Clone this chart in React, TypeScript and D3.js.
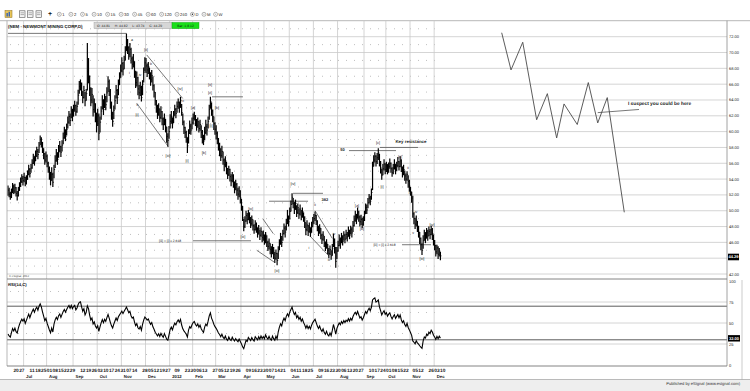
import React from "react";
import * as d3 from "d3";

const FONT = "'Liberation Sans', Arial, Helvetica, sans-serif";

// ---------------- data (NEM daily, 13 Jun 2011 .. 10 Dec 2012) ----------------
const warmupCloses = [55.2, 55.8, 55.1, 54.6, 55.0, 54.3, 54.8, 55.4, 55.9, 56.2, 55.7, 55.0, 54.5, 54.9, 54.2, 53.6, 53.9, 53.2, 52.8, 53.3];

const closes2011 = [
  52.6, 52.1, 51.8, 52.4, 53.0,
  52.5, 52.9, 52.2, 51.9, 52.6, 53.2, 53.7, 54.1, 53.8,
  54.2, 53.5, 54.0, 54.6, 55.2, 54.7, 55.4, 56.0, 56.6, 56.2, 57.0, 57.5, 57.1, 58.2, 59.0, 58.6, 57.9, 57.2, 56.4, 56.9,
  56.0, 55.3, 54.5, 53.8, 54.6, 53.6, 55.2, 56.3, 57.0, 56.5, 57.6, 58.1, 57.4, 58.3, 59.2, 59.9, 59.4, 60.3, 61.2, 61.9, 61.4, 62.6, 62.0,
  62.8, 63.3, 62.5, 63.2, 64.6, 65.7, 66.0, 65.1, 64.3, 65.2, 63.9, 64.8, 67.6, 67.0, 65.4, 64.0, 64.7, 62.8, 63.5, 62.1, 61.3,
  62.0, 59.8, 61.2, 62.6, 63.9, 62.8, 64.1, 63.4, 64.9, 66.3, 65.1, 63.6, 62.2, 61.3, 62.7, 63.9, 65.2, 64.3, 65.9, 66.8, 67.7,
  68.6, 67.9, 69.0, 70.1, 71.3, 70.6, 69.8, 70.4, 69.2, 68.5, 68.9, 67.4, 66.2, 66.8, 65.4, 64.9, 65.6, 64.3, 66.0, 67.5, 68.7,
  68.3, 67.8, 68.2, 67.3, 66.6, 67.1, 65.8, 65.0, 63.9, 63.2, 62.4, 62.9, 61.8, 62.5, 61.6, 60.9, 61.7, 60.6, 59.4, 58.9, 60.0,
];
const highs2011 = [
  53.2, 52.9, 52.4, 52.8, 53.5,
  53.3, 53.4, 53.0, 52.5, 53.0, 53.6, 54.2, 54.6, 54.4,
  54.8, 54.3, 54.5, 55.1, 55.8, 55.4, 55.9, 56.5, 57.2, 56.9, 57.6, 58.1, 57.8, 58.7, 59.5, 59.3, 58.7, 57.9, 57.3, 57.5,
  57.1, 56.2, 55.6, 54.9, 55.5, 54.8, 55.8, 57.0, 57.8, 57.4, 58.3, 58.8, 58.2, 58.9, 59.9, 60.6, 60.3, 61.0, 61.9, 62.6, 62.3, 63.2, 62.9,
  63.4, 63.9, 63.4, 63.8, 65.3, 66.4, 66.6, 66.2, 65.1, 65.8, 65.0, 65.4, 71.2, 69.3, 67.1, 65.6, 65.5, 64.6, 64.2, 63.6, 62.4,
  62.9, 62.3, 61.9, 63.2, 64.6, 64.1, 64.8, 64.5, 65.6, 67.0, 66.6, 65.4, 63.8, 62.5, 63.3, 64.6, 65.9, 65.4, 66.6, 67.5, 68.5,
  69.4, 68.8, 69.6, 70.8, 72.4, 71.7, 70.8, 71.2, 70.6, 69.5, 69.8, 68.9, 67.7, 67.6, 66.9, 65.9, 66.3, 65.8, 66.5, 68.1, 69.4,
  69.3, 68.6, 68.8, 68.1, 67.5, 67.8, 67.0, 66.0, 65.0, 64.0, 63.4, 63.6, 62.9, 63.2, 62.6, 61.8, 62.3, 61.6, 60.6, 59.8, 60.7,
];
const lows2011 = [
  51.9, 51.7, 51.4, 51.6, 52.2,
  52.1, 52.2, 51.8, 51.3, 51.8, 52.5, 53.0, 53.5, 53.2,
  53.6, 53.1, 53.3, 53.9, 54.5, 54.2, 54.8, 55.3, 55.9, 55.7, 56.3, 56.8, 56.5, 57.3, 58.3, 58.0, 57.3, 56.5, 55.8, 56.1,
  55.5, 54.8, 53.9, 53.2, 53.8, 53.0, 54.1, 55.4, 56.2, 55.8, 56.7, 57.4, 56.8, 57.5, 58.4, 59.1, 58.8, 59.5, 60.4, 61.0, 60.7, 61.7, 61.3,
  61.9, 62.5, 62.0, 62.4, 63.4, 64.8, 65.2, 64.5, 63.6, 64.2, 63.2, 63.9, 65.2, 66.1, 64.5, 63.2, 63.6, 61.9, 62.4, 61.2, 59.9,
  60.7, 58.9, 59.9, 61.5, 62.8, 62.1, 63.0, 62.7, 63.7, 65.0, 64.5, 62.9, 61.5, 60.6, 61.6, 62.8, 64.2, 63.5, 64.6, 65.9, 66.8,
  67.5, 67.1, 67.9, 69.0, 70.2, 69.8, 69.1, 69.4, 68.6, 67.9, 68.1, 66.8, 65.5, 65.7, 64.6, 64.1, 64.5, 63.8, 64.6, 66.2, 67.6,
  67.4, 66.9, 67.3, 66.6, 65.8, 66.2, 65.2, 64.3, 63.3, 62.4, 61.6, 62.0, 61.2, 61.6, 60.8, 60.2, 60.8, 59.9, 58.6, 58.1, 59.1,
];

const closes2012 = [
  61.3, 61.9, 61.0, 62.0, 62.8, 62.3, 63.2, 63.7, 63.1, 63.9, 62.4, 61.2, 60.5, 59.9, 59.3, 58.2, 59.8, 60.7, 60.2, 61.1,
  61.7, 62.0, 61.2, 60.8, 61.3, 60.4, 60.9, 59.9, 59.3, 58.8, 59.9, 60.6, 60.2, 61.3, 62.8, 63.8, 62.6, 61.9, 61.0, 60.3,
  59.8, 59.1, 58.3, 57.8, 57.0, 57.5, 56.4, 55.8, 56.3, 55.1, 54.6, 55.2, 54.3, 53.8, 54.4, 53.5, 52.9, 53.3, 52.6, 52.1, 52.5, 51.6,
  50.6, 49.1, 48.0, 48.7, 49.4, 48.9, 49.6, 49.0, 48.4, 48.9, 48.1, 47.6, 48.3, 47.8, 47.2, 47.7, 46.9, 47.4, 46.6, 46.9,
  46.2, 46.8, 46.0, 45.5, 45.9, 45.1, 44.7, 45.3, 44.5, 44.0, 44.6, 43.7, 44.9, 45.8, 46.5, 46.0, 47.1, 47.8, 47.3, 48.4, 49.1, 48.6,
  49.9, 50.8, 51.7, 50.9, 50.3, 50.9, 49.8, 50.4, 49.6, 50.2, 49.3, 49.9, 49.1, 48.5, 47.6, 48.2, 47.4, 47.9, 47.2, 48.0, 48.6,
  49.0, 49.4, 48.7, 47.9, 47.3, 47.8, 46.9, 46.4, 46.9, 45.9, 45.4, 45.9, 45.0, 44.6, 45.1, 44.3, 45.2, 46.4, 45.3, 43.6, 44.9,
  45.6, 46.3, 45.8, 46.6, 46.1, 46.9, 46.4, 47.0, 46.7, 47.4, 46.9, 47.6, 47.2, 48.1, 48.8, 49.3, 48.9, 49.8, 49.2, 48.6, 48.9, 48.3, 48.8,
  49.6, 50.4, 50.1, 51.0, 51.6, 51.2, 52.3, 55.6, 56.4, 56.9, 56.2, 56.7, 57.3, 56.1, 55.4, 54.5, 55.3, 55.9, 55.2,
  55.7, 55.0, 55.6, 56.0, 55.3, 54.8, 55.4, 55.9, 55.2, 55.7, 56.2, 55.6, 56.3, 55.4, 54.8, 55.2, 54.4, 54.0, 54.6, 53.7, 53.1,
  52.4, 51.6, 49.6, 49.0, 48.3, 48.8, 47.9, 47.3, 46.5, 45.7, 45.0, 46.2, 46.9, 46.5, 47.2, 46.8, 47.4, 47.0, 47.6, 47.1, 46.2,
  45.6, 44.8, 45.3, 44.5, 44.9, 44.29,
];
const highs2012 = [
  62.2, 62.6, 61.8, 62.6, 63.4, 63.0, 63.8, 64.2, 63.8, 64.4, 63.5, 62.3, 61.4, 60.6, 60.1, 59.3, 60.3, 61.4, 61.0, 61.8,
  62.3, 62.5, 62.1, 61.6, 61.8, 61.3, 61.5, 60.8, 60.2, 59.6, 60.6, 61.5, 61.0, 61.9, 63.4, 64.4, 63.7, 62.8, 61.9, 61.2,
  60.8, 60.0, 59.2, 58.6, 57.9, 58.2, 57.5, 56.6, 56.9, 56.2, 55.4, 55.7, 55.3, 54.6, 54.9, 54.6, 53.7, 53.9, 53.5, 52.9, 53.1, 52.6,
  51.5, 50.6, 49.0, 49.3, 50.0, 49.7, 50.1, 49.8, 49.2, 49.4, 48.9, 48.3, 48.8, 48.5, 47.9, 48.2, 47.6, 47.9, 47.4, 47.5,
  47.0, 47.3, 46.9, 46.2, 46.5, 45.9, 45.5, 45.8, 45.4, 44.8, 45.1, 44.7, 45.5, 46.4, 47.2, 46.8, 47.6, 48.4, 48.1, 49.0, 50.1, 49.4,
  50.4, 51.3, 52.2, 51.6, 51.1, 51.4, 50.7, 50.9, 50.3, 50.8, 50.1, 50.4, 49.8, 49.3, 48.5, 48.8, 48.2, 48.5, 47.9, 48.6, 49.2,
  49.6, 49.9, 49.5, 48.8, 48.1, 48.3, 47.8, 47.1, 47.4, 46.8, 46.1, 46.4, 45.8, 45.3, 45.6, 45.0, 45.8, 47.1, 46.5, 45.4, 45.4,
  46.2, 47.0, 46.6, 47.2, 46.9, 47.4, 47.1, 47.6, 47.3, 48.0, 47.6, 48.1, 47.9, 48.7, 49.4, 50.0, 49.6, 50.4, 50.0, 49.4, 49.5, 49.1, 49.3,
  50.0, 50.9, 50.8, 51.6, 52.1, 51.9, 52.8, 56.2, 57.0, 57.4, 57.0, 57.3, 57.9, 57.2, 56.3, 55.3, 55.9, 56.5, 56.0,
  56.2, 55.9, 56.1, 56.6, 56.1, 55.5, 55.9, 56.5, 55.9, 56.2, 56.8, 56.3, 56.9, 56.5, 55.6, 55.8, 55.1, 54.7, 55.0, 54.5, 53.9,
  53.0, 52.4, 51.9, 49.8, 49.1, 49.4, 48.7, 48.1, 47.3, 46.6, 45.9, 46.9, 47.6, 47.3, 47.8, 47.6, 48.0, 47.7, 48.1, 47.8, 47.0,
  46.3, 45.7, 45.7, 45.5, 45.3, 44.82,
];
const lows2012 = [
  60.4, 61.0, 60.4, 61.1, 62.0, 61.7, 62.4, 62.9, 62.4, 63.0, 62.0, 60.8, 59.7, 59.2, 58.6, 57.3, 58.5, 59.7, 59.6, 60.3,
  60.9, 61.4, 60.7, 60.1, 60.5, 59.9, 60.1, 59.2, 58.5, 58.3, 58.9, 59.7, 59.5, 60.4, 61.5, 62.9, 62.0, 61.2, 60.2, 59.6,
  59.0, 58.4, 57.6, 56.9, 56.3, 56.7, 55.8, 55.0, 55.5, 54.6, 54.0, 54.4, 53.7, 53.1, 53.6, 52.9, 52.2, 52.6, 51.9, 51.4, 51.7, 50.9,
  50.0, 48.7, 47.4, 47.8, 48.6, 48.3, 48.8, 48.4, 47.8, 48.1, 47.5, 47.1, 47.5, 47.2, 46.6, 47.0, 46.3, 46.7, 46.0, 46.2,
  45.7, 45.9, 45.4, 44.9, 45.1, 44.5, 44.1, 44.5, 43.9, 43.4, 43.8, 43.1, 43.9, 45.0, 45.7, 45.4, 46.2, 47.0, 46.6, 47.5, 48.3, 48.0,
  48.9, 49.9, 50.8, 50.3, 49.6, 50.1, 49.2, 49.6, 49.0, 49.4, 48.8, 49.1, 48.6, 47.8, 46.9, 47.4, 46.8, 47.2, 46.7, 47.2, 47.9,
  48.3, 48.7, 48.2, 47.4, 46.8, 47.1, 46.4, 45.8, 46.2, 45.4, 44.9, 45.2, 44.5, 44.0, 44.4, 43.8, 44.3, 45.4, 44.6, 42.8, 43.9,
  44.8, 45.5, 45.2, 45.9, 45.6, 46.2, 45.9, 46.4, 46.1, 46.7, 46.4, 47.0, 46.6, 47.3, 48.0, 48.6, 48.3, 49.0, 48.6, 48.0, 48.2, 47.8, 48.1,
  48.7, 49.6, 49.6, 50.3, 50.9, 50.7, 51.4, 52.6, 55.6, 56.1, 55.6, 55.9, 56.4, 55.6, 54.7, 53.9, 54.5, 55.1, 54.6,
  54.9, 54.6, 54.8, 55.3, 54.8, 54.3, 54.6, 55.2, 54.6, 55.0, 55.5, 55.1, 55.5, 54.9, 54.2, 54.5, 53.8, 53.4, 53.8, 52.9, 52.4,
  51.9, 51.0, 49.1, 48.3, 47.7, 48.0, 47.3, 46.6, 45.8, 45.0, 44.4, 45.2, 46.2, 45.9, 46.5, 46.2, 46.8, 46.4, 46.9, 46.3, 45.6,
  45.0, 44.2, 44.5, 43.9, 44.2, 43.74,
];

const holidays = ["2011-07-04", "2011-09-05", "2011-11-24", "2011-12-26", "2012-01-02", "2012-01-16", "2012-02-20", "2012-04-06", "2012-05-28", "2012-07-04", "2012-09-03", "2012-10-29", "2012-10-30", "2012-11-22"];
const firstDay = "2011-06-13";
const lastDay = "2012-12-10";

const weekTicks = [
  "2011-06-20", "2011-06-27", "2011-07-11", "2011-07-18", "2011-07-25", "2011-08-01", "2011-08-08", "2011-08-15", "2011-08-22", "2011-08-29",
  "2011-09-12", "2011-09-19", "2011-09-26", "2011-10-03", "2011-10-10", "2011-10-17", "2011-10-24", "2011-10-31", "2011-11-07", "2011-11-14",
  "2011-11-28", "2011-12-05", "2011-12-12", "2011-12-19", "2011-12-27", "2012-01-09", "2012-01-23", "2012-01-30", "2012-02-06", "2012-02-13",
  "2012-02-27", "2012-03-05", "2012-03-12", "2012-03-19", "2012-03-26", "2012-04-09", "2012-04-16", "2012-04-23", "2012-04-30", "2012-05-07",
  "2012-05-14", "2012-05-21", "2012-06-04", "2012-06-11", "2012-06-18", "2012-06-25", "2012-07-09", "2012-07-16", "2012-07-23", "2012-07-30",
  "2012-08-06", "2012-08-13", "2012-08-20", "2012-08-27", "2012-09-10", "2012-09-17", "2012-09-24", "2012-10-01", "2012-10-08", "2012-10-15",
  "2012-10-22", "2012-11-05", "2012-11-12", "2012-11-26", "2012-12-03", "2012-12-10",
];
const monthLabels = ["Jul", "Aug", "Sep", "Oct", "Nov", "Dec", "2012", "Feb", "Mar", "Apr", "May", "Jun", "Jul", "Aug", "Sep", "Oct", "Nov", "Dec"];

const priceTicks = [42, 44, 46, 48, 50, 52, 54, 56, 58, 60, 62, 64, 66, 68, 70, 72];
const priceDotted = [43, 45, 47, 49, 51, 53, 55, 57, 59, 61, 63, 65, 67, 69, 71, 73];
const rsiTicks = [0, 25, 50, 75, 100];
const rsiDotted = [12.5, 37.5, 62.5, 87.5];
const rsiBands = [30, 70];

// hand-drawn projection (bar index, price)
const projIdx = [429.3, 437.4, 447.6, 459.7, 469, 477.1, 483.5, 495, 504.6, 512.8, 521.1, 535.9];
const projPrice = [72.5, 67.8, 71.3, 61.5, 64.8, 59.2, 63.5, 60.9, 66.2, 61.1, 64.3, 49.8];

// wave labels: [text, bar index, price, font size, bold]
const waveLabels: [string, number, number, number, boolean][] = [
  ["a", 107.8, 71.6, 3.6, false], ["i", 105.5, 67.4, 3.6, false], ["iv", 114.8, 67.2, 3.6, false],
  ["b", 124.3, 68.6, 3.6, false], ["v", 112.2, 63.4, 3.6, false], ["[i]", 112.2, 62.2, 3.9, false],
  ["[ii]", 120, 70.4, 3.9, false], ["[iv]", 149.6, 65.5, 3.9, false], ["c", 152.2, 63.9, 3.6, false],
  ["[iii]", 139.1, 57.0, 3.9, false], ["[i]", 155.7, 56.3, 3.9, false], ["[a]", 160.9, 63.1, 3.9, false],
  ["[b]", 170.4, 57.4, 3.9, false], ["[ii]", 175.7, 66.0, 3.9, false], ["[c]", 175.7, 65.0, 3.9, false],
  ["[b]", 181.7, 63.0, 3.9, false], ["[i]", 176.5, 60.8, 3.9, false], ["[iii]", 204.3, 46.8, 3.9, false],
  ["[iv]", 211, 50.3, 3.9, false], ["[iii]", 233.9, 42.4, 3.9, false], ["[iv]", 247.8, 53.4, 3.9, false],
  ["382", 275.6, 51.4, 4, true], ["ii", 267, 50.7, 3.6, false], ["i", 261.7, 45.3, 3.6, false],
  ["iv", 283.5, 47.0, 3.6, false], ["iii", 279, 43.8, 3.6, false], ["[a]", 303.5, 50.6, 3.9, false],
  ["[b]", 307.8, 47.7, 3.9, false], ["[c]", 321.7, 58.6, 3.9, false], ["50", 290.9, 57.7, 4, true],
  ["[ii]", 340.9, 56.9, 3.9, false], ["[i]", 325.2, 53.0, 3.9, false], ["ii", 347.8, 55.4, 3.6, false],
  ["iii", 349.6, 52.3, 3.6, false], ["iv", 354.8, 49.9, 3.6, false], ["v", 352.2, 47.2, 3.6, false],
  ["[iv]", 368.7, 48.3, 3.9, false], ["[iii]", 360, 44.0, 3.9, false],
  ["[iii] = [i] x 2.618", 140.9, 46.2, 3.3, false], ["[iii] = [i] x 2.618", 327.4, 45.7, 3.3, false],
  ["Key resistance", 350.4, 58.7, 4.4, true],
];
// drawn lines: [idx1, price1, idx2, price2]
const drawnLines: [number, number, number, number][] = [
  [0, 72.42, 103, 72.42],
  [120.6, 69.7, 151.9, 64.2], [111.9, 63.6, 139.4, 58.1],
  [177.4, 64.4, 204.3, 64.4], [160.9, 46.2, 211.3, 46.2],
  [221.5, 49.0, 230.7, 47.1], [216.3, 45.0, 231.5, 43.5],
  [247.8, 52.2, 273.9, 52.2], [227, 51.2, 260.9, 51.2],
  [267, 50.0, 282, 46.5], [262.6, 46.8, 279, 44.3],
  [296.5, 57.6, 337.4, 57.6], [323.5, 58.0, 356.5, 58.0],
  [342.6, 45.7, 367.8, 45.7],
  [512.8, 62.4, 548.7, 62.8],
];
const noteText = "I suspect you could be here";
const noteIdx = 539.1;
const notePrice = 63.4;

const toolbarItems = ["1", "2", "5", "10", "15", "30", "45", "60", "120", "240", "D", "M", "W"];

const closes = [...closes2011, ...closes2012];
const highs = [...highs2011, ...highs2012];
const lows = [...lows2011, ...lows2012];

function tradingCalendar(): Date[] {
  const parse = d3.utcParse("%Y-%m-%d");
  const fmt = d3.utcFormat("%Y-%m-%d");
  const hol = new Set(holidays);
  const all = d3.utcDay.range(parse(firstDay)!, d3.utcDay.offset(parse(lastDay)!, 1));
  return all.filter((d) => d.getUTCDay() !== 0 && d.getUTCDay() !== 6 && !hol.has(fmt(d)));
}

function computeRsi(values: number[], period: number): (number | null)[] {
  const out: (number | null)[] = values.map(() => null);
  let ag = 0, al = 0;
  for (let k = 1; k <= period; k++) {
    const ch = values[k] - values[k - 1];
    if (ch > 0) ag += ch; else al -= ch;
  }
  ag /= period; al /= period;
  out[period] = al === 0 ? 100 : 100 - 100 / (1 + ag / al);
  for (let k = period + 1; k < values.length; k++) {
    const ch = values[k] - values[k - 1];
    ag = (ag * (period - 1) + Math.max(ch, 0)) / period;
    al = (al * (period - 1) + Math.max(-ch, 0)) / period;
    out[k] = al === 0 ? 100 : 100 - 100 / (1 + ag / al);
  }
  return out;
}

export default function App() {
  const days = tradingCalendar();
  const fmt = d3.utcFormat("%Y-%m-%d");
  const indexOf = new Map(days.map((d, i) => [fmt(d), i] as [string, number]));
  const n = closes.length;

  const PL = 7, PR = 727, PT = 20.7, PB = 279, RT = 280, RB = 366;
  const x = d3.scaleLinear().domain([0, 376]).range([8, 8 + 376 * 1.15]);
  const yP = d3.scaleLinear().domain([42, 72]).range([274, 36.7]);
  const yR = d3.scaleLinear().domain([0, 100]).range([365, 281]);
  const dataR = x(n - 1) + 1;

  const monthStarts: number[] = [];
  for (let i = 1; i < days.length; i++) {
    if (days[i].getUTCMonth() !== days[i - 1].getUTCMonth()) monthStarts.push(i);
  }

  const rsiAll = computeRsi([...warmupCloses, ...closes], 14);
  const rsi = closes.map((_, i) => rsiAll[i + warmupCloses.length] as number);
  const rsiLine = d3.line<number>().x((_, i) => x(i)).y((v) => yR(v));
  const projLine = d3.line<number>().x((v) => x(v)).y((_, i) => yP(projPrice[i]));
  const lastRsi = rsi[n - 1];
  const lastClose = closes[n - 1];

  let tx = 59.3;
  const tbPos = toolbarItems.map((t) => {
    const p = tx;
    tx += 9.7 + 1.9 * t.length;
    return p;
  });

  const grid = "#c9c9c9";

  return (
    <svg width={750} height={391} style={{ position: "absolute", left: 0, top: 0, background: "#fff" }} fontFamily={FONT} textRendering="geometricPrecision">
      <rect x={0} y={0} width={750} height={391} fill="#fff" />

      {/* toolbar */}
      <g>
        <rect x={5} y={10.5} width={7} height={7} fill="#e9c659" stroke="#8a6d1c" strokeWidth={0.5} />
        <rect x={6.5} y={13} width={1.3} height={3.5} fill="#2a5cbf" />
        <rect x={8.6} y={11.8} width={1.3} height={4.7} fill="#2a5cbf" />
        {[19.5, 27.5, 36].map((ix, k) => (
          <g key={k}>
            <rect x={ix} y={10.8} width={5.5} height={6.5} fill="#f4f4f4" stroke="#555" strokeWidth={0.6} />
            <line x1={ix + 1} x2={ix + 4.5} y1={12.8} y2={12.8} stroke="#666" strokeWidth={0.5} />
            <line x1={ix + 1} x2={ix + 4.5} y1={14.6} y2={14.6} stroke="#666" strokeWidth={0.5} />
          </g>
        ))}
        <text x={50} y={16.3} fontSize={7} fontWeight="bold" textAnchor="middle" fill="#111">+</text>
        {toolbarItems.map((t, k) => (
          <g key={t + k}>
            <circle cx={tbPos[k]} cy={14.3} r={2} fill="#fff" stroke="#666" strokeWidth={0.5} />
            <circle cx={tbPos[k]} cy={14.3} r={0.7} fill={k === 10 ? "#222" : "#bbb"} />
            <text x={tbPos[k] + 3} y={15.8} fontSize={4.2} fill="#222">{t}</text>
          </g>
        ))}
      </g>
      <line x1={0} x2={750} y1={PT} y2={PT} stroke="#9a9a9a" strokeWidth={0.7} />

      {/* price grid */}
      {priceTicks.map((p) => (
        <line key={"pg" + p} x1={PL} x2={PR} y1={yP(p)} y2={yP(p)} stroke={grid} strokeWidth={0.8} />
      ))}
      {priceDotted.map((p) => (
        <line key={"pd" + p} x1={PL + 3} x2={dataR} y1={yP(p)} y2={yP(p)} stroke="#8c8c8c" strokeWidth={0.7} strokeDasharray="0.8,7.2" />
      ))}
      {/* rsi grid */}
      {rsiTicks.slice(1, 4).map((v) => (
        <line key={"rg" + v} x1={PL} x2={PR} y1={yR(v)} y2={yR(v)} stroke={grid} strokeWidth={0.8} />
      ))}
      {rsiDotted.map((v) => (
        <line key={"rd" + v} x1={PL + 3} x2={dataR} y1={yR(v)} y2={yR(v)} stroke="#8c8c8c" strokeWidth={0.7} strokeDasharray="0.8,7.2" />
      ))}
      {monthStarts.map((i) => (
        <g key={"mv" + i}>
          <line x1={x(i) - 0.5} x2={x(i) - 0.5} y1={PT} y2={PB} stroke={grid} strokeWidth={0.8} />
          <line x1={x(i) - 0.5} x2={x(i) - 0.5} y1={RT} y2={RB} stroke={grid} strokeWidth={0.8} />
        </g>
      ))}
      {rsiBands.map((v) => (
        <line key={"rb" + v} x1={PL} x2={PR} y1={yR(v)} y2={yR(v)} stroke="#4a4a4a" strokeWidth={0.9} />
      ))}

      {/* header */}
      <text x={8} y={27.6} fontSize={4.4} fontWeight="bold" fill="#111">(NEM - NEWMONT MINING CORP,D)</text>
      <rect x={94} y={22.4} width={78} height={6.3} fill="#d6d6d6" stroke="#9a9a9a" strokeWidth={0.4} />
      <text x={97} y={26.9} fontSize={3.4} fill="#222" xmlSpace="preserve">
        {`O: ${44.81}     H: ${44.82}     L: ${43.74}     C: ${lastClose.toFixed(2)}`}
      </text>
      <rect x={172} y={22.4} width={27} height={6.3} fill="#19e019" stroke="#0a9a0a" strokeWidth={0.4} />
      <text x={185.5} y={26.9} fontSize={3.4} textAnchor="middle" fill="#111">Bar: 1.8.12</text>

      {/* drawn annotation lines */}
      {drawnLines.map(([i1, p1, i2, p2], k) => (
        <line key={"dl" + k} x1={x(i1)} y1={yP(p1)} x2={x(i2)} y2={yP(p2)} stroke="#555" strokeWidth={0.8} />
      ))}

      {/* price bars */}
      <g stroke="#000" strokeWidth={1.2}>
        {closes.map((c, i) => (
          <g key={"b" + i}>
            <line x1={x(i)} x2={x(i)} y1={yP(highs[i])} y2={yP(lows[i])} />
            <line x1={x(i)} x2={x(i) + 1.1} y1={yP(c)} y2={yP(c)} strokeWidth={0.8} />
          </g>
        ))}
      </g>

      {/* projection */}
      <path d={projLine(projIdx) || ""} fill="none" stroke="#4a4a4a" strokeWidth={0.9} />
      <text x={x(noteIdx)} y={yP(notePrice)} fontSize={4.8} fontWeight="bold" fill="#222">{noteText}</text>

      {/* wave labels */}
      {waveLabels.map(([t, i, p, fs, b], k) => (
        <text key={"wl" + k} x={x(i)} y={yP(p)} fontSize={fs} fontWeight={b ? "bold" : "normal"} textAnchor="middle" dominantBaseline="central" fill="#222">{t}</text>
      ))}
      <text x={9} y={277} fontSize={2.8} fill="#444">© eSignal, 2012</text>

      {/* RSI */}
      <path d={rsiLine(rsi) || ""} fill="none" stroke="#000" strokeWidth={1.1} />
      <text x={8} y={286.3} fontSize={4.2} fontWeight="bold" fill="#111">RSI(14,C)</text>

      {/* frames */}
      <line x1={PL} x2={PL} y1={PT} y2={RB} stroke="#9a9a9a" strokeWidth={0.7} />
      <line x1={PR} x2={PR} y1={PT} y2={RB} stroke="#8a8a8a" strokeWidth={0.8} />
      <line x1={PL} x2={PR} y1={PB} y2={PB} stroke="#777" strokeWidth={0.9} />
      <line x1={PL} x2={PR} y1={RB} y2={RB} stroke="#777" strokeWidth={0.9} />
      <line x1={742} x2={742} y1={RT} y2={391} stroke="#b5b5b5" strokeWidth={0.7} />

      {/* right axis labels */}
      {priceTicks.map((p) => (
        <text key={"pt" + p} x={729} y={yP(p)} fontSize={4} dominantBaseline="central" fill="#222">{p.toFixed(2)}</text>
      ))}
      <rect x={728} y={yP(lastClose) - 2.2} width={11} height={6.6} fill="#000" />
      <text x={733.5} y={yP(lastClose) + 1.1} fontSize={4} fontWeight="bold" textAnchor="middle" dominantBaseline="central" fill="#fff">{lastClose.toFixed(2)}</text>
      {rsiTicks.map((v) => (
        <text key={"rt" + v} x={729} y={yR(v)} fontSize={4} dominantBaseline="central" fill="#222">{v}</text>
      ))}
      <rect x={728} y={yR(lastRsi) - 3} width={12} height={6.4} fill="#000" />
      <text x={734} y={yR(lastRsi) + 0.2} fontSize={4} fontWeight="bold" textAnchor="middle" dominantBaseline="central" fill="#fff">{lastRsi.toFixed(2)}</text>

      {/* x axis */}
      {weekTicks.map((d) => {
        const i = indexOf.get(d);
        if (i === undefined) return null;
        return (
          <text key={"wt" + d} x={x(i) - 0.3} y={371.6} fontSize={4.8} fontWeight="bold" fill="#222">{d.slice(8, 10)}</text>
        );
      })}
      {monthStarts.map((i, k) => (
        <text key={"ml" + i} x={x(i) + 2} y={378.2} fontSize={4.3} fontWeight="bold" fill="#222">{monthLabels[k]}</text>
      ))}

      {/* status bar */}
      <rect x={0} y={379.5} width={750} height={11.5} fill="#eeeeee" />
      <line x1={0} x2={750} y1={379.5} y2={379.5} stroke="#a0a0a0" strokeWidth={0.7} />
      <text x={740} y={385} fontSize={4.1} textAnchor="end" fill="#333">Published by eSignal (www.esignal.com)</text>
    </svg>
  );
}
